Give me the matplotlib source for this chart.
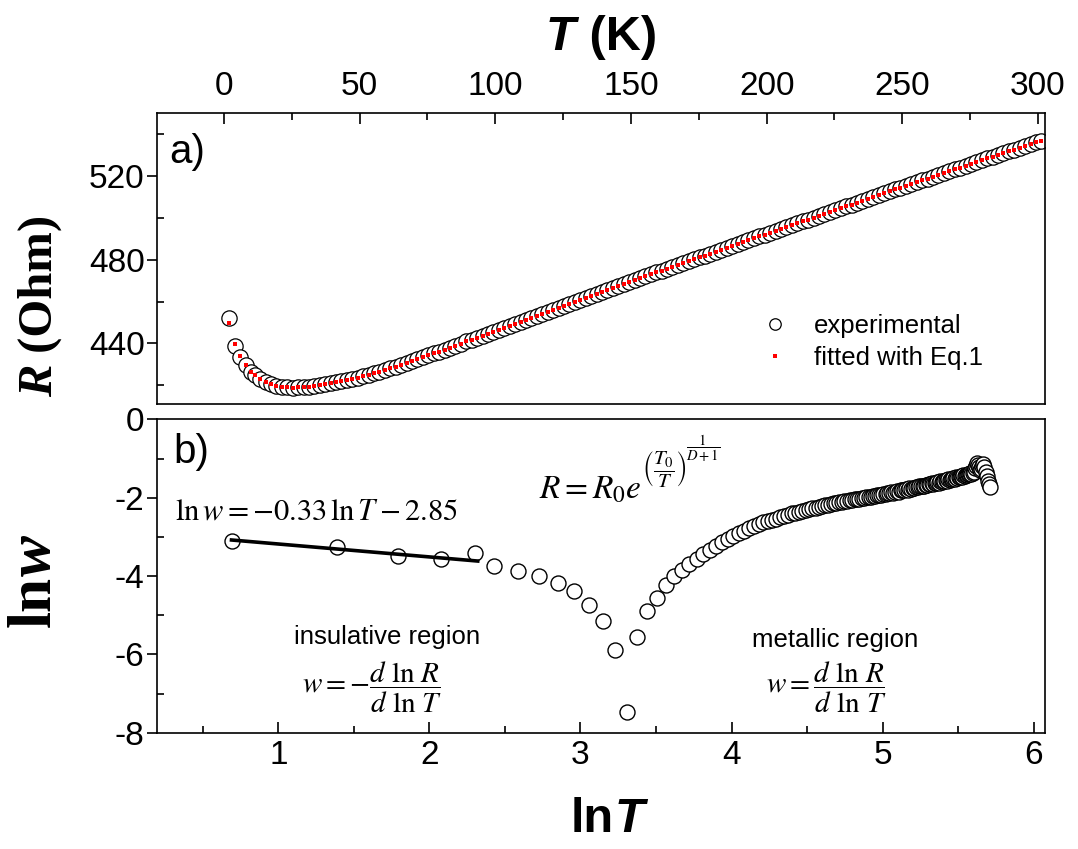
import numpy as np
import matplotlib
matplotlib.use("Agg")
import matplotlib.pyplot as plt
from matplotlib.ticker import MultipleLocator

# Temperature of each measurement (K)
T_K = [2, 4, 6, 8, 10,
       11.3, 13.3, 15.3, 17.3, 19.3, 21.3, 23.3, 25.3, 27.3, 29.3,
       31.3, 33.3, 35.3, 37.3, 39.3, 41.3, 43.3, 45.3, 47.3, 49.3,
       51.3, 53.3, 55.3, 57.3, 59.3, 61.3, 63.3, 65.3, 67.3, 69.3,
       71.3, 73.3, 75.3, 77.3, 79.3, 81.3, 83.3, 85.3, 87.3, 89.3,
       91.3, 93.3, 95.3, 97.3, 99.3, 101.3, 103.3, 105.3, 107.3, 109.3,
       111.3, 113.3, 115.3, 117.3, 119.3, 121.3, 123.3, 125.3, 127.3, 129.3,
       131.3, 133.3, 135.3, 137.3, 139.3, 141.3, 143.3, 145.3, 147.3, 149.3,
       151.3, 153.3, 155.3, 157.3, 159.3, 161.3, 163.3, 165.3, 167.3, 169.3,
       171.3, 173.3, 175.3, 177.3, 179.3, 181.3, 183.3, 185.3, 187.3, 189.3,
       191.3, 193.3, 195.3, 197.3, 199.3, 201.3, 203.3, 205.3, 207.3, 209.3,
       211.3, 213.3, 215.3, 217.3, 219.3, 221.3, 223.3, 225.3, 227.3, 229.3,
       231.3, 233.3, 235.3, 237.3, 239.3, 241.3, 243.3, 245.3, 247.3, 249.3,
       251.3, 253.3, 255.3, 257.3, 259.3, 261.3, 263.3, 265.3, 267.3, 269.3,
       271.3, 273.3, 275.3, 277.3, 279.3, 281.3, 283.3, 285.3, 287.3, 289.3,
       291.3, 293.3, 295.3, 297.3, 299.3, 301.3]

# Measured resistance (Ohm)
R_exp = [452.0, 438.6, 433.6, 429.6, 426.3,
         424.8, 422.8, 421.4, 420.4, 419.7, 419.2, 418.95, 418.85, 418.9, 419.05,
         419.3, 419.6, 420.0, 420.45, 420.9, 421.4, 421.9, 422.5, 423.0, 423.6,
         424.3, 425.0, 425.7, 426.4, 427.2, 428.0, 428.9, 429.7, 430.6, 431.5,
         432.4, 433.3, 434.2, 435.2, 436.1, 437.0, 438.0, 438.9, 439.9, 440.9,
         441.8, 442.8, 443.7, 444.7, 445.6, 446.5, 447.5, 448.5, 449.4, 450.4,
         451.4, 452.3, 453.3, 454.2, 455.2, 456.1, 457.1, 458.0, 459.0, 459.9,
         460.9, 461.8, 462.8, 463.7, 464.6, 465.6, 466.5, 467.5, 468.4, 469.4,
         470.3, 471.2, 472.1, 473.0, 473.9, 474.8, 475.7, 476.6, 477.5, 478.4,
         479.3, 480.2, 481.1, 482.0, 482.9, 483.8, 484.7, 485.6, 486.5, 487.4,
         488.3, 489.3, 490.2, 491.1, 492.0, 492.9, 493.8, 494.7, 495.6, 496.5,
         497.4, 498.3, 499.2, 500.1, 501.0, 501.9, 502.8, 503.7, 504.6, 505.5,
         506.4, 507.3, 508.2, 509.1, 510.0, 510.9, 511.8, 512.7, 513.6, 514.5,
         515.4, 516.2, 517.1, 518.0, 518.8, 519.7, 520.6, 521.4, 522.3, 523.2,
         524.0, 524.9, 525.8, 526.6, 527.5, 528.4, 529.2, 530.1, 531.0, 531.9,
         532.7, 533.6, 534.5, 535.3, 536.2, 537.0]

# Eq.1 fit: departs from the data only at the lowest temperatures
R_fit = [449.6, 439.7, 433.9, 429.8, 426.5] + R_exp[5:]

# ln w, with w = |d lnR / d lnT|
ln_w = [-3.10, -3.25, -3.49, -3.57, -3.40,
        -3.73, -3.87, -4.00, -4.17, -4.39, -4.73, -5.15, -5.89, -7.48, -5.55,
        -4.90, -4.56, -4.22, -4.00, -3.85, -3.70, -3.56, -3.44, -3.33, -3.23,
        -3.14, -3.05, -2.97, -2.90, -2.84, -2.78, -2.73, -2.68, -2.63, -2.59,
        -2.56, -2.53, -2.49, -2.46, -2.43, -2.40, -2.38, -2.35, -2.33, -2.31,
        -2.29, -2.27, -2.25, -2.23, -2.21, -2.19, -2.18, -2.16, -2.14, -2.13,
        -2.11, -2.10, -2.09, -2.07, -2.06, -2.05, -2.04, -2.03, -2.02, -2.01,
        -2.00, -1.99, -1.98, -1.97, -1.96, -1.95, -1.94, -1.93, -1.92, -1.91,
        -1.90, -1.88, -1.89, -1.86, -1.87, -1.84, -1.83, -1.84, -1.81, -1.80,
        -1.81, -1.78, -1.79, -1.76, -1.77, -1.74, -1.75, -1.72, -1.73, -1.70,
        -1.71, -1.69, -1.70, -1.67, -1.68, -1.65, -1.66, -1.63, -1.64, -1.61,
        -1.62, -1.60, -1.61, -1.58, -1.59, -1.56, -1.57, -1.55, -1.56, -1.53,
        -1.54, -1.51, -1.52, -1.50, -1.51, -1.48, -1.49, -1.46, -1.47, -1.45,
        -1.46, -1.43, -1.44, -1.41, -1.42, -1.39, -1.40, -1.37, -1.38, -1.36,
        -1.33, -1.25, -1.18, -1.12, -1.15, -1.22, -1.30, -1.27, -1.20, -1.14,
        -1.21, -1.33, -1.45, -1.56, -1.64, -1.72]

# Low-temperature linear fit: ln w = a ln T + b
fit_slope = -0.33
fit_intercept = -2.85
fit_lnT_span = [0.69, 2.32]

plt.rcParams.update({
    "font.family": "Liberation Sans",
    "mathtext.fontset": "stix",
    "axes.unicode_minus": False,
    "axes.linewidth": 1.2,
})

W, H = 1078, 849
fig = plt.figure(figsize=(W / 100, H / 100), dpi=100)


def box(left, top, right, bottom):
    return [left / W, 1 - bottom / H, (right - left) / W, (bottom - top) / H]


ax1 = fig.add_axes(box(157, 112.7, 1045, 404))
ax2 = fig.add_axes(box(157, 419.5, 1045, 732.7))

tick_fs = 24

# ---- panel a: R(T) ----
ax1.plot(T_K, R_exp, ls="none", marker="o", ms=11, mfc="white",
         mec="black", mew=0.9, label="experimental")
ax1.plot(T_K, R_fit, ls="none", marker="s", ms=3.4, mfc="red",
         mec="red", mew=0, label="fitted with Eq.1")
ax1.set_xlim(-24.7, 302.6)
ax1.set_ylim(411, 550.3)
ax1.xaxis.set_major_locator(MultipleLocator(50))
ax1.xaxis.set_minor_locator(MultipleLocator(25))
ax1.yaxis.set_major_locator(MultipleLocator(40))
ax1.yaxis.set_minor_locator(MultipleLocator(20))
ax1.tick_params(axis="x", which="both", direction="in", top=True,
                bottom=False, labeltop=True, labelbottom=False,
                labelsize=tick_fs, width=1.2, pad=8)
ax1.tick_params(axis="x", which="major", length=8)
ax1.tick_params(axis="x", which="minor", length=5)

leg = ax1.legend(loc="upper left", bbox_to_anchor=(0.679, 0.31),
                 frameon=False, fontsize=18.5, handlelength=1.2,
                 handletextpad=0.9, labelspacing=0.33, borderpad=0,
                 borderaxespad=0, markerscale=0.75)

ax1.text(0.014, 0.865, "a)", transform=ax1.transAxes, fontsize=29,
         ha="left", va="center")

# ---- panel b: ln w vs ln T ----
lnT = np.log(T_K)
ax2.plot(lnT, ln_w, ls="none", marker="o", ms=10.8, mfc="white",
         mec="black", mew=1.0)
xs = np.array(fit_lnT_span)
ax2.plot(xs, fit_slope * xs + fit_intercept, color="black", lw=2.6,
         zorder=5)
ax2.set_xlim(0.197, 6.075)
ax2.set_ylim(-8, 0)
ax2.xaxis.set_major_locator(MultipleLocator(1))
ax2.xaxis.set_minor_locator(MultipleLocator(0.5))
ax2.yaxis.set_major_locator(MultipleLocator(2))
ax2.yaxis.set_minor_locator(MultipleLocator(1))
ax2.tick_params(axis="x", which="both", direction="in", top=False,
                bottom=True, labelsize=tick_fs, width=1.2, pad=5)
ax2.tick_params(axis="x", which="major", length=8)
ax2.tick_params(axis="x", which="minor", length=5)

for ax in (ax1, ax2):
    ax.tick_params(axis="y", which="major", direction="out", length=7,
                   width=1.2, labelsize=tick_fs, pad=2, right=False)
    ax.tick_params(axis="y", which="minor", direction="in", length=5,
                   width=1.2, right=False)

ax2.text(0.018, 0.896, "b)", transform=ax2.transAxes, fontsize=29,
         ha="left", va="center")

ax2.text(0.316, -2.36, r"$\ln w = -0.33\,\ln T - 2.85$", fontsize=22,
         ha="left", va="center")

# Eq.1, set in three stacked pieces so the exponent sits high
eq_base = ax2.text(2.725, -2.03, r"$R = R_0 e$", fontsize=24,
                   ha="left", va="baseline")
eq_exp = ax2.annotate(r"$\left(\dfrac{T_0}{T}\right)$", xy=(1.0, 0.55),
                      xycoords=eq_base, ha="left", va="bottom",
                      fontsize=15)
ax2.annotate(r"$\dfrac{1}{D+1}$", xy=(1.0, 0.62), xycoords=eq_exp,
             ha="left", va="bottom", fontsize=10.5)

ax2.text(1.718, -5.56, "insulative region", fontsize=18.5,
         ha="center", va="center")
ax2.text(1.62, -6.84, r"$w = -\dfrac{d\ \ln\, R}{d\ \ln\, T}$", fontsize=21,
         ha="center", va="center")
ax2.text(4.685, -5.63, "metallic region", fontsize=18.5,
         ha="center", va="center")
ax2.text(4.626, -6.84, r"$w = \dfrac{d\ \ln\, R}{d\ \ln\, T}$", fontsize=21,
         ha="center", va="center")

# ---- axis titles built from upright and italic pieces ----
sans_b = dict(family="Liberation Sans", weight="bold", size=35)
serif_b = dict(family="Liberation Serif", weight="bold")

t1 = fig.text(546 / W, 1 - 37 / H, "T", style="italic", ha="left",
              va="center", **sans_b)
fig.add_artist(plt.Annotation(" (K)", xy=(1, 0), xycoords=t1,
                              ha="left", va="bottom", **sans_b))

b1 = fig.text(571 / W, 1 - 820 / H, "ln", ha="left", va="center", **sans_b)
fig.add_artist(plt.Annotation("T", xy=(1, 0), xycoords=b1, ha="left",
                              va="bottom", style="italic", **sans_b))

r1 = fig.text(40 / W, 1 - 397 / H, "R", rotation=90, style="italic",
              ha="center", va="bottom", size=35, **serif_b)
fig.add_artist(plt.Annotation(" (Ohm)", xy=(0.5, 1), xycoords=r1,
                              rotation=90, ha="center", va="bottom",
                              size=35, **serif_b))

w1 = fig.text(35 / W, 1 - 627 / H, "ln", rotation=90, ha="center",
              va="bottom", size=44, **serif_b)
fig.add_artist(plt.Annotation("w", xy=(0.5, 1), xycoords=w1, rotation=90,
                              ha="center", va="bottom", style="italic",
                              size=44, **serif_b))

fig.savefig("out.png", dpi=100)
